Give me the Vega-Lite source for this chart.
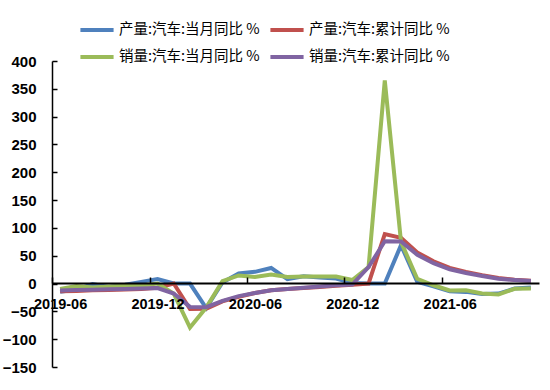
{
  "$schema": "https://vega.github.io/schema/vega-lite/v6.json",
  "autosize": "none",
  "width": 487,
  "height": 306,
  "padding": {"left": 52, "top": 61, "right": 11, "bottom": 23},
  "background": "white",
  "config": {"view": {"stroke": null}},
  "datasets": {
    "d": [
      {"m":"2019-06","s":"产量:汽车:当月同比 %","v":-15},{"m":"2019-07","s":"产量:汽车:当月同比 %","v":-11},{"m":"2019-08","s":"产量:汽车:当月同比 %","v":-1},{"m":"2019-09","s":"产量:汽车:当月同比 %","v":-6},{"m":"2019-10","s":"产量:汽车:当月同比 %","v":-2},{"m":"2019-11","s":"产量:汽车:当月同比 %","v":3},{"m":"2019-12","s":"产量:汽车:当月同比 %","v":8},
      {"m":"2020-01","s":"产量:汽车:当月同比 %","v":0},{"m":"2020-02","s":"产量:汽车:当月同比 %","v":0},{"m":"2020-03","s":"产量:汽车:当月同比 %","v":-44},{"m":"2020-04","s":"产量:汽车:当月同比 %","v":2},{"m":"2020-05","s":"产量:汽车:当月同比 %","v":18},{"m":"2020-06","s":"产量:汽车:当月同比 %","v":21},{"m":"2020-07","s":"产量:汽车:当月同比 %","v":28},{"m":"2020-08","s":"产量:汽车:当月同比 %","v":8},{"m":"2020-09","s":"产量:汽车:当月同比 %","v":13},{"m":"2020-10","s":"产量:汽车:当月同比 %","v":11},{"m":"2020-11","s":"产量:汽车:当月同比 %","v":9},{"m":"2020-12","s":"产量:汽车:当月同比 %","v":1},
      {"m":"2021-01","s":"产量:汽车:当月同比 %","v":0},{"m":"2021-02","s":"产量:汽车:当月同比 %","v":0},{"m":"2021-03","s":"产量:汽车:当月同比 %","v":69},{"m":"2021-04","s":"产量:汽车:当月同比 %","v":3},{"m":"2021-05","s":"产量:汽车:当月同比 %","v":-5},{"m":"2021-06","s":"产量:汽车:当月同比 %","v":-14},{"m":"2021-07","s":"产量:汽车:当月同比 %","v":-15},{"m":"2021-08","s":"产量:汽车:当月同比 %","v":-19},{"m":"2021-09","s":"产量:汽车:当月同比 %","v":-18},{"m":"2021-10","s":"产量:汽车:当月同比 %","v":-9},{"m":"2021-11","s":"产量:汽车:当月同比 %","v":-7},

      {"m":"2019-06","s":"产量:汽车:累计同比 %","v":-14},{"m":"2019-07","s":"产量:汽车:累计同比 %","v":-13.5},{"m":"2019-08","s":"产量:汽车:累计同比 %","v":-12.2},{"m":"2019-09","s":"产量:汽车:累计同比 %","v":-11.7},{"m":"2019-10","s":"产量:汽车:累计同比 %","v":-10.9},{"m":"2019-11","s":"产量:汽车:累计同比 %","v":-9.8},{"m":"2019-12","s":"产量:汽车:累计同比 %","v":-7.5},
      {"m":"2020-01","s":"产量:汽车:累计同比 %","v":0},{"m":"2020-02","s":"产量:汽车:累计同比 %","v":-45.8},{"m":"2020-03","s":"产量:汽车:累计同比 %","v":-45.2},{"m":"2020-04","s":"产量:汽车:累计同比 %","v":-32},{"m":"2020-05","s":"产量:汽车:累计同比 %","v":-24},{"m":"2020-06","s":"产量:汽车:累计同比 %","v":-17},{"m":"2020-07","s":"产量:汽车:累计同比 %","v":-12},{"m":"2020-08","s":"产量:汽车:累计同比 %","v":-10},{"m":"2020-09","s":"产量:汽车:累计同比 %","v":-8},{"m":"2020-10","s":"产量:汽车:累计同比 %","v":-6},{"m":"2020-11","s":"产量:汽车:累计同比 %","v":-4},{"m":"2020-12","s":"产量:汽车:累计同比 %","v":-2},
      {"m":"2021-01","s":"产量:汽车:累计同比 %","v":0},{"m":"2021-02","s":"产量:汽车:累计同比 %","v":89},{"m":"2021-03","s":"产量:汽车:累计同比 %","v":82},{"m":"2021-04","s":"产量:汽车:累计同比 %","v":56},{"m":"2021-05","s":"产量:汽车:累计同比 %","v":40},{"m":"2021-06","s":"产量:汽车:累计同比 %","v":28},{"m":"2021-07","s":"产量:汽车:累计同比 %","v":21},{"m":"2021-08","s":"产量:汽车:累计同比 %","v":15},{"m":"2021-09","s":"产量:汽车:累计同比 %","v":10},{"m":"2021-10","s":"产量:汽车:累计同比 %","v":7},{"m":"2021-11","s":"产量:汽车:累计同比 %","v":5},

      {"m":"2019-06","s":"销量:汽车:当月同比 %","v":-9.6},{"m":"2019-07","s":"销量:汽车:当月同比 %","v":-4.3},{"m":"2019-08","s":"销量:汽车:当月同比 %","v":-6.9},{"m":"2019-09","s":"销量:汽车:当月同比 %","v":-5.2},{"m":"2019-10","s":"销量:汽车:当月同比 %","v":-4.0},{"m":"2019-11","s":"销量:汽车:当月同比 %","v":-3.6},{"m":"2019-12","s":"销量:汽车:当月同比 %","v":0.1},
      {"m":"2020-01","s":"销量:汽车:当月同比 %","v":-18.0},{"m":"2020-02","s":"销量:汽车:当月同比 %","v":-79.1},{"m":"2020-03","s":"销量:汽车:当月同比 %","v":-43.3},{"m":"2020-04","s":"销量:汽车:当月同比 %","v":4.4},{"m":"2020-05","s":"销量:汽车:当月同比 %","v":14.5},{"m":"2020-06","s":"销量:汽车:当月同比 %","v":11.6},{"m":"2020-07","s":"销量:汽车:当月同比 %","v":16.4},{"m":"2020-08","s":"销量:汽车:当月同比 %","v":11.6},{"m":"2020-09","s":"销量:汽车:当月同比 %","v":12.8},{"m":"2020-10","s":"销量:汽车:当月同比 %","v":12.5},{"m":"2020-11","s":"销量:汽车:当月同比 %","v":12.6},{"m":"2020-12","s":"销量:汽车:当月同比 %","v":6.4},
      {"m":"2021-01","s":"销量:汽车:当月同比 %","v":29.5},{"m":"2021-02","s":"销量:汽车:当月同比 %","v":364.9},{"m":"2021-03","s":"销量:汽车:当月同比 %","v":74.9},{"m":"2021-04","s":"销量:汽车:当月同比 %","v":8.6},{"m":"2021-05","s":"销量:汽车:当月同比 %","v":-3.1},{"m":"2021-06","s":"销量:汽车:当月同比 %","v":-12.4},{"m":"2021-07","s":"销量:汽车:当月同比 %","v":-11.9},{"m":"2021-08","s":"销量:汽车:当月同比 %","v":-17.8},{"m":"2021-09","s":"销量:汽车:当月同比 %","v":-19.6},{"m":"2021-10","s":"销量:汽车:当月同比 %","v":-9.4},{"m":"2021-11","s":"销量:汽车:当月同比 %","v":-9.1},

      {"m":"2019-06","s":"销量:汽车:累计同比 %","v":-12.4},{"m":"2019-07","s":"销量:汽车:累计同比 %","v":-11.4},{"m":"2019-08","s":"销量:汽车:累计同比 %","v":-11.0},{"m":"2019-09","s":"销量:汽车:累计同比 %","v":-10.3},{"m":"2019-10","s":"销量:汽车:累计同比 %","v":-9.7},{"m":"2019-11","s":"销量:汽车:累计同比 %","v":-9.1},{"m":"2019-12","s":"销量:汽车:累计同比 %","v":-8.2},
      {"m":"2020-01","s":"销量:汽车:累计同比 %","v":-18.0},{"m":"2020-02","s":"销量:汽车:累计同比 %","v":-42.0},{"m":"2020-03","s":"销量:汽车:累计同比 %","v":-42.4},{"m":"2020-04","s":"销量:汽车:累计同比 %","v":-31.1},{"m":"2020-05","s":"销量:汽车:累计同比 %","v":-22.6},{"m":"2020-06","s":"销量:汽车:累计同比 %","v":-16.9},{"m":"2020-07","s":"销量:汽车:累计同比 %","v":-12.2},{"m":"2020-08","s":"销量:汽车:累计同比 %","v":-9.8},{"m":"2020-09","s":"销量:汽车:累计同比 %","v":-7.4},{"m":"2020-10","s":"销量:汽车:累计同比 %","v":-5.1},{"m":"2020-11","s":"销量:汽车:累计同比 %","v":-3.1},{"m":"2020-12","s":"销量:汽车:累计同比 %","v":-1.9},
      {"m":"2021-01","s":"销量:汽车:累计同比 %","v":29.5},{"m":"2021-02","s":"销量:汽车:累计同比 %","v":76.0},{"m":"2021-03","s":"销量:汽车:累计同比 %","v":75.6},{"m":"2021-04","s":"销量:汽车:累计同比 %","v":51.8},{"m":"2021-05","s":"销量:汽车:累计同比 %","v":36.6},{"m":"2021-06","s":"销量:汽车:累计同比 %","v":25.6},{"m":"2021-07","s":"销量:汽车:累计同比 %","v":19.0},{"m":"2021-08","s":"销量:汽车:累计同比 %","v":13.7},{"m":"2021-09","s":"销量:汽车:累计同比 %","v":8.7},{"m":"2021-10","s":"销量:汽车:累计同比 %","v":6.3},{"m":"2021-11","s":"销量:汽车:累计同比 %","v":4.4}
    ]
  },
  "data": {"name": "d"},
  "mark": {"type": "line", "strokeWidth": 4, "strokeJoin": "miter"},
  "encoding": {
    "x": {
      "field": "m", "type": "ordinal", "sort": null,
      "scale": {"type": "point", "padding": 0.5},
      "axis": {
        "title": null, "orient": "bottom", "offset": -84, "zindex": 1,
        "values": ["2019-06","2019-12","2020-06","2020-12","2021-06"],
        "labelAngle": 0, "labelFont": "Liberation Sans", "labelFontWeight": "bold", "labelFontSize": 14.5, "labelColor": "black",
        "labelPadding": 20, "labelOffset": 8, "tickSize": -6, "tickOffset": -8, "tickColor": "black", "tickWidth": 1.5,
        "domainColor": "black", "domainWidth": 2, "grid": false
      }
    },
    "y": {
      "field": "v", "type": "quantitative",
      "scale": {"domain": [-150, 400], "nice": false, "zero": false},
      "axis": {
        "title": null, "values": [-150,-100,-50,0,50,100,150,200,250,300,350,400],
        "labelFont": "Liberation Sans", "labelFontWeight": "bold", "labelFontSize": 15, "labelColor": "black",
        "labelPadding": 21, "tickSize": -5, "tickColor": "black", "tickWidth": 1.5,
        "domainColor": "black", "domainWidth": 1.5, "grid": false
      }
    },
    "color": {
      "field": "s", "type": "nominal",
      "scale": {
        "domain": ["产量:汽车:当月同比 %","产量:汽车:累计同比 %","销量:汽车:当月同比 %","销量:汽车:累计同比 %"],
        "range": ["#4F81BD","#C0504D","#9BBB59","#8064A2"]
      },
      "legend": {
        "title": null, "orient": "none", "direction": "horizontal", "legendX": 26, "legendY": -50, "columns": 2,
        "symbolType": "stroke", "symbolSize": 1100, "symbolStrokeWidth": 4,
        "labelFont": "Noto Sans CJK SC", "labelFontSize": 14.5, "labelColor": "black", "labelLimit": 300,
        "labelOffset": 3, "columnPadding": 2, "rowPadding": -5
      }
    }
  }
}
